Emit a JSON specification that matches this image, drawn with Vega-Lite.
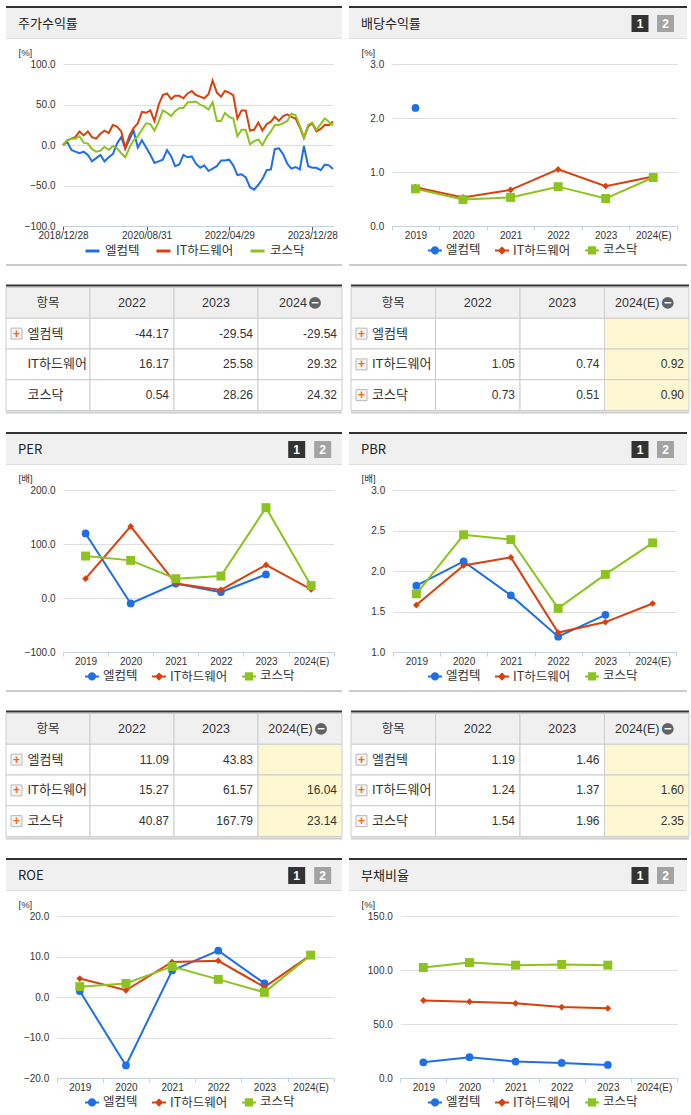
{
  "$schema": "https://vega.github.io/schema/vega-lite/v6.json",
  "padding": {"left": 5, "top": 6, "right": 0, "bottom": 0},
  "background": "#ffffff",
  "spacing": 18.5,
  "resolve": {"scale": {"color": "independent", "fill": "independent", "stroke": "independent", "shape": "independent"}, "legend": {"color": "independent", "fill": "independent", "stroke": "independent", "shape": "independent"}},
  "config": {
    "view": {"stroke": null},
    "font": "Liberation Sans, Noto Sans CJK KR",
    "axis": {"labelFont": "Liberation Sans", "labelFontSize": 10, "labelColor": "#333333", "titleFont": "Liberation Sans, Noto Sans CJK KR", "titleFontSize": 9.5, "titleFontWeight": "normal", "titleColor": "#333333", "gridColor": "#dedede", "domainColor": "#c3d1e0", "tickColor": "#c3d1e0"},
    "legend": {"labelFont": "Noto Sans CJK KR", "labelFontSize": 12.5, "labelColor": "#333333", "orient": "none", "legendX": 78, "legendY": 203, "direction": "horizontal", "symbolSize": 196, "symbolStrokeWidth": 2, "columnPadding": 10, "labelOffset": 3}
  },
  "vconcat": [
    {
      "spacing": 7,
      "resolve": {"scale": {"color": "independent", "fill": "independent", "stroke": "independent", "shape": "independent"}, "legend": {"color": "independent", "fill": "independent", "stroke": "independent", "shape": "independent"}},
      "hconcat": [
        {
          "spacing": 0,
          "resolve": {"scale": {"color": "independent", "fill": "independent", "stroke": "independent", "shape": "independent"}, "legend": {"color": "independent", "fill": "independent", "stroke": "independent", "shape": "independent"}},
          "vconcat": [
            {"width": 336, "height": 2, "view": {"fill": "#333333"}, "data": {"values": []}, "mark": "rect", "encoding": {}},
            {"width": 336, "height": 30, "view": {"fill": "#f0f0f0"}, "data": {"values": [{"t": "주가수익률"}]},
             "mark": {"type": "text", "align": "left", "baseline": "middle", "fontSize": 13, "color": "#222222", "font": "Noto Sans CJK KR"},
             "encoding": {"text": {"field": "t"}, "x": {"value": 12}, "y": {"value": 15.5}}},
            {"width": 336, "height": 1, "view": {"fill": "#dddddd"}, "data": {"values": []}, "mark": "rect", "encoding": {}},
            {
              "width": 336, "height": 225,
              "data": {"format": {"parse": {"d": "date:'%Y-%m-%d'"}}, "values": [
                {"d": "2018-12-28", "엘컴텍": 0, "IT하드웨어": 0, "코스닥": 0},
                {"d": "2019-01-28", "엘컴텍": 4, "IT하드웨어": 6, "코스닥": 6},
                {"d": "2019-02-28", "엘컴텍": -6, "IT하드웨어": 8, "코스닥": 8},
                {"d": "2019-03-28", "엘컴텍": -8, "IT하드웨어": 10, "코스닥": 8},
                {"d": "2019-04-28", "엘컴텍": -10, "IT하드웨어": 17, "코스닥": 11},
                {"d": "2019-05-28", "엘컴텍": -8, "IT하드웨어": 12, "코스닥": 3},
                {"d": "2019-06-28", "엘컴텍": -12, "IT하드웨어": 17, "코스닥": 2},
                {"d": "2019-07-28", "엘컴텍": -20, "IT하드웨어": 10, "코스닥": -5},
                {"d": "2019-08-28", "엘컴텍": -16, "IT하드웨어": 8, "코스닥": -8},
                {"d": "2019-09-28", "엘컴텍": -12, "IT하드웨어": 14, "코스닥": -7},
                {"d": "2019-10-28", "엘컴텍": -20, "IT하드웨어": 18, "코스닥": -2},
                {"d": "2019-11-28", "엘컴텍": -15, "IT하드웨어": 15, "코스닥": -6},
                {"d": "2019-12-28", "엘컴텍": -11, "IT하드웨어": 25, "코스닥": -1},
                {"d": "2020-01-28", "엘컴텍": 2, "IT하드웨어": 23, "코스닥": -4},
                {"d": "2020-02-28", "엘컴텍": 10, "IT하드웨어": 17, "코스닥": -10},
                {"d": "2020-03-28", "엘컴텍": -4, "IT하드웨어": -4, "코스닥": -15},
                {"d": "2020-04-28", "엘컴텍": 7, "IT하드웨어": 12, "코스닥": -3},
                {"d": "2020-05-28", "엘컴텍": 18, "IT하드웨어": 21, "코스닥": 6},
                {"d": "2020-06-28", "엘컴텍": -3, "IT하드웨어": 27, "코스닥": 11},
                {"d": "2020-07-28", "엘컴텍": 6, "IT하드웨어": 41, "코스닥": 19},
                {"d": "2020-08-28", "엘컴텍": -3, "IT하드웨어": 40, "코스닥": 27},
                {"d": "2020-09-28", "엘컴텍": -12, "IT하드웨어": 43, "코스닥": 26},
                {"d": "2020-10-28", "엘컴텍": -22, "IT하드웨어": 30, "코스닥": 18},
                {"d": "2020-11-28", "엘컴텍": -20, "IT하드웨어": 50, "코스닥": 29},
                {"d": "2020-12-28", "엘컴텍": -18, "IT하드웨어": 62, "코스닥": 43},
                {"d": "2021-01-28", "엘컴텍": -6, "IT하드웨어": 64, "코스닥": 40},
                {"d": "2021-02-28", "엘컴텍": -14, "IT하드웨어": 57, "코스닥": 36},
                {"d": "2021-03-28", "엘컴텍": -26, "IT하드웨어": 61, "코스닥": 42},
                {"d": "2021-04-28", "엘컴텍": -24, "IT하드웨어": 61, "코스닥": 46},
                {"d": "2021-05-28", "엘컴텍": -12, "IT하드웨어": 58, "코스닥": 46},
                {"d": "2021-06-28", "엘컴텍": -15, "IT하드웨어": 64, "코스닥": 53},
                {"d": "2021-07-28", "엘컴텍": -14, "IT하드웨어": 67, "코스닥": 53},
                {"d": "2021-08-28", "엘컴텍": -23, "IT하드웨어": 62, "코스닥": 54},
                {"d": "2021-09-28", "엘컴텍": -28, "IT하드웨어": 60, "코스닥": 50},
                {"d": "2021-10-28", "엘컴텍": -25, "IT하드웨어": 58, "코스닥": 48},
                {"d": "2021-11-28", "엘컴텍": -32, "IT하드웨어": 63, "코스닥": 44},
                {"d": "2021-12-28", "엘컴텍": -29, "IT하드웨어": 80, "코스닥": 53},
                {"d": "2022-01-28", "엘컴텍": -26, "IT하드웨어": 65, "코스닥": 30},
                {"d": "2022-02-28", "엘컴텍": -19, "IT하드웨어": 60, "코스닥": 30},
                {"d": "2022-03-28", "엘컴텍": -19, "IT하드웨어": 67, "코스닥": 40},
                {"d": "2022-04-28", "엘컴텍": -18, "IT하드웨어": 65, "코스닥": 35},
                {"d": "2022-05-28", "엘컴텍": -25, "IT하드웨어": 62, "코스닥": 33},
                {"d": "2022-06-28", "엘컴텍": -37, "IT하드웨어": 33, "코스닥": 11},
                {"d": "2022-07-28", "엘컴텍": -36, "IT하드웨어": 43, "코스닥": 19},
                {"d": "2022-08-28", "엘컴텍": -40, "IT하드웨어": 43, "코스닥": 19},
                {"d": "2022-09-28", "엘컴텍": -52, "IT하드웨어": 18, "코스닥": 1},
                {"d": "2022-10-28", "엘컴텍": -55, "IT하드웨어": 19, "코스닥": 5},
                {"d": "2022-11-28", "엘컴텍": -49, "IT하드웨어": 28, "코스닥": 7},
                {"d": "2022-12-28", "엘컴텍": -42, "IT하드웨어": 18, "코스닥": 0},
                {"d": "2023-01-28", "엘컴텍": -31, "IT하드웨어": 26, "코스닥": 10},
                {"d": "2023-02-28", "엘컴텍": -30, "IT하드웨어": 29, "코스닥": 17},
                {"d": "2023-03-28", "엘컴텍": -5, "IT하드웨어": 35, "코스닥": 25},
                {"d": "2023-04-28", "엘컴텍": -4, "IT하드웨어": 30, "코스닥": 25},
                {"d": "2023-05-28", "엘컴텍": -11, "IT하드웨어": 36, "코스닥": 27},
                {"d": "2023-06-28", "엘컴텍": -23, "IT하드웨어": 38, "코스닥": 30},
                {"d": "2023-07-28", "엘컴텍": -29, "IT하드웨어": 35, "코스닥": 39},
                {"d": "2023-08-28", "엘컴텍": -27, "IT하드웨어": 33, "코스닥": 37},
                {"d": "2023-09-28", "엘컴텍": -30, "IT하드웨어": 22, "코스닥": 24},
                {"d": "2023-10-28", "엘컴텍": -1, "IT하드웨어": 9, "코스닥": 10},
                {"d": "2023-11-28", "엘컴텍": -26, "IT하드웨어": 23, "코스닥": 25},
                {"d": "2023-12-28", "엘컴텍": -28, "IT하드웨어": 27, "코스닥": 28},
                {"d": "2024-01-28", "엘컴텍": -28, "IT하드웨어": 17, "코스닥": 19},
                {"d": "2024-02-28", "엘컴텍": -31, "IT하드웨어": 20, "코스닥": 26},
                {"d": "2024-03-28", "엘컴텍": -24, "IT하드웨어": 25, "코스닥": 33},
                {"d": "2024-04-28", "엘컴텍": -25, "IT하드웨어": 25, "코스닥": 29},
                {"d": "2024-05-28", "엘컴텍": -29.5, "IT하드웨어": 29.3, "코스닥": 24.3}
              ]},
              "transform": [{"fold": ["엘컴텍", "IT하드웨어", "코스닥"], "as": ["s", "v"]}],
              "mark": {"type": "line", "strokeWidth": 2},
              "encoding": {
                "x": {"field": "d", "type": "temporal",
                  "scale": {"domain": [{"year": 2018, "month": 12, "date": 28}, {"year": 2024, "month": 5, "date": 28}], "range": [57, 327]},
                  "axis": {"title": null, "offset": -38, "grid": false, "format": "%Y/%m/%d", "labelFlush": false, "labelOverlap": false, "tickColor": "#555555", "tickSize": 4, "labelPadding": 0,
                    "values": [{"year": 2018, "month": 12, "date": 28}, {"year": 2020, "month": 8, "date": 31}, {"year": 2022, "month": 4, "date": 29}, {"year": 2023, "month": 12, "date": 28}]}},
                "y": {"field": "v", "type": "quantitative",
                  "scale": {"domain": [-100, 100], "range": [187, 25.3], "nice": false, "zero": false},
                  "axis": {"title": "[%]", "titleAngle": 0, "titleAlign": "left", "titleBaseline": "middle", "titleX": -45, "titleY": 13, "offset": -57, "domain": false, "ticks": false, "labelPadding": 8, "values": [-100, -50, 0, 50, 100], "format": ".1f"}},
                "color": {"field": "s", "type": "nominal",
                  "scale": {"domain": ["엘컴텍", "IT하드웨어", "코스닥"], "range": ["#1f6fe6", "#d9400b", "#8dc31f"]},
                  "legend": {"title": null, "symbolType": "stroke", "symbolStrokeWidth": 3, "legendY": 203.5, "labelOffset": 4}}
              }
            },
            {"width": 336, "height": 2, "view": {"fill": "#cccccc"}, "data": {"values": []}, "mark": "rect", "encoding": {}}
          ]
        },
        {
          "spacing": 0,
          "resolve": {"scale": {"color": "independent", "fill": "independent", "stroke": "independent", "shape": "independent"}, "legend": {"color": "independent", "fill": "independent", "stroke": "independent", "shape": "independent"}},
          "vconcat": [
            {"width": 338, "height": 2, "view": {"fill": "#333333"}, "data": {"values": []}, "mark": "rect", "encoding": {}},
            {"width": 338, "height": 30, "view": {"fill": "#f0f0f0"}, "data": {"values": [{"t": "배당수익률"}]},
             "layer": [
               {"mark": {"type": "text", "align": "left", "baseline": "middle", "fontSize": 13, "color": "#222222", "font": "Noto Sans CJK KR"}, "encoding": {"text": {"field": "t"}, "x": {"value": 12}, "y": {"value": 15.5}}},
               {"mark": {"type": "point", "shape": "square", "filled": true, "size": 289, "color": "#333333", "opacity": 1}, "encoding": {"x": {"value": 291}, "y": {"value": 15.5}}},
               {"mark": {"type": "point", "shape": "square", "filled": true, "size": 289, "color": "#a3a3a3", "opacity": 1}, "encoding": {"x": {"value": 316.5}, "y": {"value": 15.5}}},
               {"mark": {"type": "text", "text": "1", "fontSize": 12, "fontWeight": "bold", "color": "#ffffff", "baseline": "middle"}, "encoding": {"x": {"value": 291}, "y": {"value": 16}}},
               {"mark": {"type": "text", "text": "2", "fontSize": 12, "fontWeight": "bold", "color": "#ffffff", "baseline": "middle"}, "encoding": {"x": {"value": 316.5}, "y": {"value": 16}}}
             ]},
            {"width": 338, "height": 1, "view": {"fill": "#dddddd"}, "data": {"values": []}, "mark": "rect", "encoding": {}},
            {
              "width": 338, "height": 225,
              "data": {"values": [
                {"y": "2019", "엘컴텍": 2.19, "IT하드웨어": 0.72, "코스닥": 0.69},
                {"y": "2020", "IT하드웨어": 0.53, "코스닥": 0.49},
                {"y": "2021", "IT하드웨어": 0.67, "코스닥": 0.53},
                {"y": "2022", "IT하드웨어": 1.05, "코스닥": 0.73},
                {"y": "2023", "IT하드웨어": 0.74, "코스닥": 0.51},
                {"y": "2024(E)", "IT하드웨어": 0.92, "코스닥": 0.90}
              ]},
              "transform": [{"fold": ["엘컴텍", "IT하드웨어", "코스닥"], "as": ["s", "v"]}, {"filter": "isValid(datum.v)"}],
              "encoding": {
                "x": {"field": "y", "type": "ordinal",
                  "scale": {"type": "band", "domain": ["2019", "2020", "2021", "2022", "2023", "2024(E)"], "range": [42.7, 328], "paddingInner": 0, "paddingOuter": 0},
                  "axis": {"title": null, "offset": -38, "grid": false, "tickBand": "extent", "tickSize": 4, "labelPadding": 0, "labelAngle": 0}},
                "y": {"field": "v", "type": "quantitative",
                  "scale": {"domain": [0, 3], "range": [187, 25.3], "nice": false, "zero": false},
                  "axis": {"title": "[%]", "titleAngle": 0, "titleAlign": "left", "titleBaseline": "middle", "titleX": -30.7, "titleY": 13, "offset": -42.7, "domain": false, "ticks": false, "labelPadding": 8, "values": [0, 1, 2, 3], "format": ".1f"}}
              },
              "layer": [
                {"transform": [{"filter": "datum.s === '엘컴텍'"}], "mark": {"type": "line", "strokeWidth": 2, "color": "#1f6fe6"}, "encoding": {}},
                {"transform": [{"filter": "datum.s === 'IT하드웨어'"}], "mark": {"type": "line", "strokeWidth": 2, "color": "#d9400b"}, "encoding": {}},
                {"transform": [{"filter": "datum.s === '코스닥'"}], "mark": {"type": "line", "strokeWidth": 2, "color": "#8dc31f"}, "encoding": {}},
                {"transform": [{"filter": "datum.s === '엘컴텍'"}], "mark": {"type": "point", "shape": "circle", "filled": true, "size": 60, "color": "#1f6fe6", "opacity": 1}, "encoding": {}},
                {"transform": [{"filter": "datum.s === 'IT하드웨어'"}], "mark": {"type": "point", "shape": "diamond", "filled": true, "size": 45, "color": "#d9400b", "opacity": 1}, "encoding": {}},
                {"transform": [{"filter": "datum.s === '코스닥'"}], "mark": {"type": "point", "shape": "square", "filled": true, "size": 80, "color": "#8dc31f", "opacity": 1}, "encoding": {}},
                {"mark": {"type": "point", "filled": true, "opacity": 0, "size": 196, "strokeWidth": 2},
                 "encoding": {
                   "fill": {"field": "s", "type": "nominal", "scale": {"domain": ["엘컴텍", "IT하드웨어", "코스닥"], "range": ["#1f6fe6", "#d9400b", "#8dc31f"]}, "legend": {"title": null, "symbolOpacity": 1}},
                   "stroke": {"field": "s", "type": "nominal", "scale": {"domain": ["엘컴텍", "IT하드웨어", "코스닥"], "range": ["#1f6fe6", "#d9400b", "#8dc31f"]}, "legend": {"title": null, "symbolOpacity": 1}},
                   "shape": {"field": "s", "type": "nominal", "scale": {"domain": ["엘컴텍", "IT하드웨어", "코스닥"], "range": ["M-1,0H1M-0.45,0A0.45,0.45,0,1,1,0.45,0A0.45,0.45,0,1,1,-0.45,0Z", "M-1,0H1M0,-0.4L0.4,0L0,0.4L-0.4,0Z", "M-1,0H1M-0.45,-0.45H0.45V0.45H-0.45Z"]}, "legend": {"title": null, "symbolOpacity": 1}}}}
              ]
            },
            {"width": 338, "height": 2, "view": {"fill": "#cccccc"}, "data": {"values": []}, "mark": "rect", "encoding": {}}
          ]
        }
      ]
    },
    {
      "spacing": 7,
      "hconcat": [
        {
          "spacing": 0,
          "vconcat": [
            {"width": 336, "height": 2, "view": {"fill": "#333333"}, "data": {"values": []}, "mark": "rect", "encoding": {}},
            {
              "width": 336, "height": 123,
              "data": {"values": [
                {"r": "h", "항목": "항목", "2022": "2022", "2023": "2023", "2024": "2024"},
                {"r": "엘컴텍", "항목": "엘컴텍", "2022": "-44.17", "2023": "-29.54", "2024": "-29.54"},
                {"r": "IT하드웨어", "항목": "IT하드웨어", "2022": "16.17", "2023": "25.58", "2024": "29.32"},
                {"r": "코스닥", "항목": "코스닥", "2022": "0.54", "2023": "28.26", "2024": "24.32"}
              ]},
              "transform": [{"fold": ["항목", "2022", "2023", "2024"], "as": ["c", "v"]}],
              "encoding": {
                "x": {"field": "c", "type": "nominal", "scale": {"domain": ["항목", "2022", "2023", "2024"], "paddingInner": 0, "paddingOuter": 0}, "axis": null},
                "y": {"field": "r", "type": "nominal", "scale": {"domain": ["h", "엘컴텍", "IT하드웨어", "코스닥"], "paddingInner": 0, "paddingOuter": 0}, "axis": null}
              },
              "layer": [
                {"mark": {"type": "rect", "stroke": "#cccccc", "strokeWidth": 1},
                 "encoding": {"fill": {"condition": [{"test": "datum.r === 'h'", "value": "#f0f0f0"}, {"test": "datum.c === '2024(E)'", "value": "#fdf8d2"}], "value": "#ffffff"}}},
                {"transform": [{"filter": "datum.r === 'h' && indexof(datum.c, '2024') < 0"}],
                 "mark": {"type": "text", "fontSize": 12.5, "color": "#333333", "baseline": "middle"}, "encoding": {"text": {"field": "v"}}},
                {"transform": [{"filter": "datum.r === 'h' && indexof(datum.c, '2024') === 0"}],
                 "mark": {"type": "text", "fontSize": 12.5, "color": "#333333", "baseline": "middle", "dx": -7}, "encoding": {"text": {"field": "v"}}},
                {"transform": [{"filter": "datum.r === 'h' && indexof(datum.c, '2024') === 0"}],
                 "mark": {"type": "point", "shape": "circle", "filled": true, "size": 140, "color": "#5f6368", "opacity": 1, "xOffset": 15}},
                {"transform": [{"filter": "datum.r === 'h' && indexof(datum.c, '2024') === 0"}],
                 "mark": {"type": "text", "text": "−", "fontSize": 13, "fontWeight": "bold", "color": "#ffffff", "baseline": "middle", "dx": 15}},
                {"transform": [{"filter": "datum.r === '엘컴텍' && datum.c === '항목'"}],
                 "mark": {"type": "point", "shape": "square", "filled": true, "size": 121, "color": "#f4f4f4", "stroke": "#b8b8b8", "strokeWidth": 1, "opacity": 1, "xOffset": 10.5},
                 "encoding": {"x": {"field": "c", "type": "nominal", "bandPosition": 0}}},
                {"transform": [{"filter": "datum.r === '엘컴텍' && datum.c === '항목'"}],
                 "mark": {"type": "text", "text": "+", "fontSize": 12, "fontWeight": "bold", "color": "#f26b0f", "baseline": "middle", "dx": 10.5},
                 "encoding": {"x": {"field": "c", "type": "nominal", "bandPosition": 0}}},
                {"transform": [{"filter": "datum.r !== 'h' && datum.c === '항목'"}],
                 "mark": {"type": "text", "align": "left", "baseline": "middle", "fontSize": 13, "color": "#333333", "dx": 21.5},
                 "encoding": {"x": {"field": "c", "type": "nominal", "bandPosition": 0}, "text": {"field": "v"}}},
                {"transform": [{"filter": "datum.r !== 'h' && datum.c !== '항목'"}],
                 "mark": {"type": "text", "align": "right", "baseline": "middle", "fontSize": 12, "color": "#333333", "dx": -5},
                 "encoding": {"x": {"field": "c", "type": "nominal", "bandPosition": 1}, "text": {"field": "v"}}}
              ]
            },
            {"width": 336, "height": 2, "view": {"fill": "#cccccc"}, "data": {"values": []}, "mark": "rect", "encoding": {}}
          ]
        },
        {
          "spacing": 0,
          "vconcat": [
            {"width": 338, "height": 2, "view": {"fill": "#333333"}, "data": {"values": []}, "mark": "rect", "encoding": {}},
            {
              "width": 338, "height": 123,
              "data": {"values": [
                {"r": "h", "항목": "항목", "2022": "2022", "2023": "2023", "2024(E)": "2024(E)"},
                {"r": "엘컴텍", "항목": "엘컴텍", "2022": "", "2023": "", "2024(E)": ""},
                {"r": "IT하드웨어", "항목": "IT하드웨어", "2022": "1.05", "2023": "0.74", "2024(E)": "0.92"},
                {"r": "코스닥", "항목": "코스닥", "2022": "0.73", "2023": "0.51", "2024(E)": "0.90"}
              ]},
              "transform": [{"fold": ["항목", "2022", "2023", "2024(E)"], "as": ["c", "v"]}],
              "encoding": {
                "x": {"field": "c", "type": "nominal", "scale": {"domain": ["항목", "2022", "2023", "2024(E)"], "paddingInner": 0, "paddingOuter": 0}, "axis": null},
                "y": {"field": "r", "type": "nominal", "scale": {"domain": ["h", "엘컴텍", "IT하드웨어", "코스닥"], "paddingInner": 0, "paddingOuter": 0}, "axis": null}
              },
              "layer": [
                {"mark": {"type": "rect", "stroke": "#cccccc", "strokeWidth": 1},
                 "encoding": {"fill": {"condition": [{"test": "datum.r === 'h'", "value": "#f0f0f0"}, {"test": "datum.c === '2024(E)'", "value": "#fdf8d2"}], "value": "#ffffff"}}},
                {"transform": [{"filter": "datum.r === 'h' && indexof(datum.c, '2024') < 0"}],
                 "mark": {"type": "text", "fontSize": 12.5, "color": "#333333", "baseline": "middle"}, "encoding": {"text": {"field": "v"}}},
                {"transform": [{"filter": "datum.r === 'h' && indexof(datum.c, '2024') === 0"}],
                 "mark": {"type": "text", "fontSize": 12.5, "color": "#333333", "baseline": "middle", "dx": -9.5}, "encoding": {"text": {"field": "v"}}},
                {"transform": [{"filter": "datum.r === 'h' && indexof(datum.c, '2024') === 0"}],
                 "mark": {"type": "point", "shape": "circle", "filled": true, "size": 140, "color": "#5f6368", "opacity": 1, "xOffset": 21}},
                {"transform": [{"filter": "datum.r === 'h' && indexof(datum.c, '2024') === 0"}],
                 "mark": {"type": "text", "text": "−", "fontSize": 13, "fontWeight": "bold", "color": "#ffffff", "baseline": "middle", "dx": 21}},
                {"transform": [{"filter": "datum.r !== 'h' && datum.c === '항목'"}],
                 "mark": {"type": "point", "shape": "square", "filled": true, "size": 121, "color": "#f4f4f4", "stroke": "#b8b8b8", "strokeWidth": 1, "opacity": 1, "xOffset": 10.5},
                 "encoding": {"x": {"field": "c", "type": "nominal", "bandPosition": 0}}},
                {"transform": [{"filter": "datum.r !== 'h' && datum.c === '항목'"}],
                 "mark": {"type": "text", "text": "+", "fontSize": 12, "fontWeight": "bold", "color": "#f26b0f", "baseline": "middle", "dx": 10.5},
                 "encoding": {"x": {"field": "c", "type": "nominal", "bandPosition": 0}}},
                {"transform": [{"filter": "datum.r !== 'h' && datum.c === '항목'"}],
                 "mark": {"type": "text", "align": "left", "baseline": "middle", "fontSize": 13, "color": "#333333", "dx": 21},
                 "encoding": {"x": {"field": "c", "type": "nominal", "bandPosition": 0}, "text": {"field": "v"}}},
                {"transform": [{"filter": "datum.r !== 'h' && datum.c !== '항목'"}],
                 "mark": {"type": "text", "align": "right", "baseline": "middle", "fontSize": 12, "color": "#333333", "dx": -5},
                 "encoding": {"x": {"field": "c", "type": "nominal", "bandPosition": 1}, "text": {"field": "v"}}}
              ]
            },
            {"width": 338, "height": 2, "view": {"fill": "#cccccc"}, "data": {"values": []}, "mark": "rect", "encoding": {}}
          ]
        }
      ]
    },
    {
      "spacing": 7,
      "resolve": {"scale": {"color": "independent", "fill": "independent", "stroke": "independent", "shape": "independent"}, "legend": {"color": "independent", "fill": "independent", "stroke": "independent", "shape": "independent"}},
      "hconcat": [
        {
          "spacing": 0,
          "resolve": {"scale": {"color": "independent", "fill": "independent", "stroke": "independent", "shape": "independent"}, "legend": {"color": "independent", "fill": "independent", "stroke": "independent", "shape": "independent"}},
          "vconcat": [
            {"width": 336, "height": 2, "view": {"fill": "#333333"}, "data": {"values": []}, "mark": "rect", "encoding": {}},
            {"width": 336, "height": 30, "view": {"fill": "#f0f0f0"}, "data": {"values": [{"t": "PER"}]},
             "layer": [
               {"mark": {"type": "text", "align": "left", "baseline": "middle", "fontSize": 13, "color": "#222222", "font": "Noto Sans CJK KR"}, "encoding": {"text": {"field": "t"}, "x": {"value": 12}, "y": {"value": 15.5}}},
               {"mark": {"type": "point", "shape": "square", "filled": true, "size": 289, "color": "#333333", "opacity": 1}, "encoding": {"x": {"value": 290.7}, "y": {"value": 15.5}}},
               {"mark": {"type": "point", "shape": "square", "filled": true, "size": 289, "color": "#a3a3a3", "opacity": 1}, "encoding": {"x": {"value": 316.7}, "y": {"value": 15.5}}},
               {"mark": {"type": "text", "text": "1", "fontSize": 12, "fontWeight": "bold", "color": "#ffffff", "baseline": "middle"}, "encoding": {"x": {"value": 290.7}, "y": {"value": 16}}},
               {"mark": {"type": "text", "text": "2", "fontSize": 12, "fontWeight": "bold", "color": "#ffffff", "baseline": "middle"}, "encoding": {"x": {"value": 316.7}, "y": {"value": 16}}}
             ]},
            {"width": 336, "height": 1, "view": {"fill": "#dddddd"}, "data": {"values": []}, "mark": "rect", "encoding": {}},
            {
              "width": 336, "height": 225,
              "data": {"values": [
                {"y": "2019", "엘컴텍": 120, "IT하드웨어": 36, "코스닥": 78},
                {"y": "2020", "엘컴텍": -10, "IT하드웨어": 133, "코스닥": 70},
                {"y": "2021", "엘컴텍": 27, "IT하드웨어": 27, "코스닥": 36},
                {"y": "2022", "엘컴텍": 11.09, "IT하드웨어": 15.27, "코스닥": 40.87},
                {"y": "2023", "엘컴텍": 43.83, "IT하드웨어": 61.57, "코스닥": 167.79},
                {"y": "2024(E)", "IT하드웨어": 16.04, "코스닥": 23.14}
              ]},
              "transform": [{"fold": ["엘컴텍", "IT하드웨어", "코스닥"], "as": ["s", "v"]}, {"filter": "isValid(datum.v)"}],
              "encoding": {
                "x": {"field": "y", "type": "ordinal",
                  "scale": {"type": "band", "domain": ["2019", "2020", "2021", "2022", "2023", "2024(E)"], "range": [57, 327.7], "paddingInner": 0, "paddingOuter": 0},
                  "axis": {"title": null, "offset": -38, "grid": false, "tickBand": "extent", "tickSize": 4, "labelPadding": 0, "labelAngle": 0}},
                "y": {"field": "v", "type": "quantitative",
                  "scale": {"domain": [-100, 200], "range": [187, 25.3], "nice": false, "zero": false},
                  "axis": {"title": "[배]", "titleAngle": 0, "titleAlign": "left", "titleBaseline": "middle", "titleX": -45, "titleY": 13, "offset": -57, "domain": false, "ticks": false, "labelPadding": 8, "values": [-100, 0, 100, 200], "format": ".1f"}}
              },
              "layer": [
                {"transform": [{"filter": "datum.s === '엘컴텍'"}], "mark": {"type": "line", "strokeWidth": 2, "color": "#1f6fe6"}, "encoding": {}},
                {"transform": [{"filter": "datum.s === 'IT하드웨어'"}], "mark": {"type": "line", "strokeWidth": 2, "color": "#d9400b"}, "encoding": {}},
                {"transform": [{"filter": "datum.s === '코스닥'"}], "mark": {"type": "line", "strokeWidth": 2, "color": "#8dc31f"}, "encoding": {}},
                {"transform": [{"filter": "datum.s === '엘컴텍'"}], "mark": {"type": "point", "shape": "circle", "filled": true, "size": 60, "color": "#1f6fe6", "opacity": 1}, "encoding": {}},
                {"transform": [{"filter": "datum.s === 'IT하드웨어'"}], "mark": {"type": "point", "shape": "diamond", "filled": true, "size": 45, "color": "#d9400b", "opacity": 1}, "encoding": {}},
                {"transform": [{"filter": "datum.s === '코스닥'"}], "mark": {"type": "point", "shape": "square", "filled": true, "size": 80, "color": "#8dc31f", "opacity": 1}, "encoding": {}},
                {"mark": {"type": "point", "filled": true, "opacity": 0, "size": 196, "strokeWidth": 2},
                 "encoding": {
                   "fill": {"field": "s", "type": "nominal", "scale": {"domain": ["엘컴텍", "IT하드웨어", "코스닥"], "range": ["#1f6fe6", "#d9400b", "#8dc31f"]}, "legend": {"title": null, "symbolOpacity": 1}},
                   "stroke": {"field": "s", "type": "nominal", "scale": {"domain": ["엘컴텍", "IT하드웨어", "코스닥"], "range": ["#1f6fe6", "#d9400b", "#8dc31f"]}, "legend": {"title": null, "symbolOpacity": 1}},
                   "shape": {"field": "s", "type": "nominal", "scale": {"domain": ["엘컴텍", "IT하드웨어", "코스닥"], "range": ["M-1,0H1M-0.45,0A0.45,0.45,0,1,1,0.45,0A0.45,0.45,0,1,1,-0.45,0Z", "M-1,0H1M0,-0.4L0.4,0L0,0.4L-0.4,0Z", "M-1,0H1M-0.45,-0.45H0.45V0.45H-0.45Z"]}, "legend": {"title": null, "symbolOpacity": 1}}}}
              ]
            },
            {"width": 336, "height": 2, "view": {"fill": "#cccccc"}, "data": {"values": []}, "mark": "rect", "encoding": {}}
          ]
        },
        {
          "spacing": 0,
          "resolve": {"scale": {"color": "independent", "fill": "independent", "stroke": "independent", "shape": "independent"}, "legend": {"color": "independent", "fill": "independent", "stroke": "independent", "shape": "independent"}},
          "vconcat": [
            {"width": 338, "height": 2, "view": {"fill": "#333333"}, "data": {"values": []}, "mark": "rect", "encoding": {}},
            {"width": 338, "height": 30, "view": {"fill": "#f0f0f0"}, "data": {"values": [{"t": "PBR"}]},
             "layer": [
               {"mark": {"type": "text", "align": "left", "baseline": "middle", "fontSize": 13, "color": "#222222", "font": "Noto Sans CJK KR"}, "encoding": {"text": {"field": "t"}, "x": {"value": 12}, "y": {"value": 15.5}}},
               {"mark": {"type": "point", "shape": "square", "filled": true, "size": 289, "color": "#333333", "opacity": 1}, "encoding": {"x": {"value": 291}, "y": {"value": 15.5}}},
               {"mark": {"type": "point", "shape": "square", "filled": true, "size": 289, "color": "#a3a3a3", "opacity": 1}, "encoding": {"x": {"value": 316.5}, "y": {"value": 15.5}}},
               {"mark": {"type": "text", "text": "1", "fontSize": 12, "fontWeight": "bold", "color": "#ffffff", "baseline": "middle"}, "encoding": {"x": {"value": 291}, "y": {"value": 16}}},
               {"mark": {"type": "text", "text": "2", "fontSize": 12, "fontWeight": "bold", "color": "#ffffff", "baseline": "middle"}, "encoding": {"x": {"value": 316.5}, "y": {"value": 16}}}
             ]},
            {"width": 338, "height": 1, "view": {"fill": "#dddddd"}, "data": {"values": []}, "mark": "rect", "encoding": {}},
            {
              "width": 338, "height": 225,
              "data": {"values": [
                {"y": "2019", "엘컴텍": 1.82, "IT하드웨어": 1.58, "코스닥": 1.72},
                {"y": "2020", "엘컴텍": 2.12, "IT하드웨어": 2.07, "코스닥": 2.45},
                {"y": "2021", "엘컴텍": 1.70, "IT하드웨어": 2.17, "코스닥": 2.39},
                {"y": "2022", "엘컴텍": 1.19, "IT하드웨어": 1.24, "코스닥": 1.54},
                {"y": "2023", "엘컴텍": 1.46, "IT하드웨어": 1.37, "코스닥": 1.96},
                {"y": "2024(E)", "IT하드웨어": 1.60, "코스닥": 2.35}
              ]},
              "transform": [{"fold": ["엘컴텍", "IT하드웨어", "코스닥"], "as": ["s", "v"]}, {"filter": "isValid(datum.v)"}],
              "encoding": {
                "x": {"field": "y", "type": "ordinal",
                  "scale": {"type": "band", "domain": ["2019", "2020", "2021", "2022", "2023", "2024(E)"], "range": [43.7, 327.3], "paddingInner": 0, "paddingOuter": 0},
                  "axis": {"title": null, "offset": -38, "grid": false, "tickBand": "extent", "tickSize": 4, "labelPadding": 0, "labelAngle": 0}},
                "y": {"field": "v", "type": "quantitative",
                  "scale": {"domain": [1, 3], "range": [187, 25.3], "nice": false, "zero": false},
                  "axis": {"title": "[배]", "titleAngle": 0, "titleAlign": "left", "titleBaseline": "middle", "titleX": -31.7, "titleY": 13, "offset": -43.7, "domain": false, "ticks": false, "labelPadding": 8, "values": [1, 1.5, 2, 2.5, 3], "format": ".1f"}}
              },
              "layer": [
                {"transform": [{"filter": "datum.s === '엘컴텍'"}], "mark": {"type": "line", "strokeWidth": 2, "color": "#1f6fe6"}, "encoding": {}},
                {"transform": [{"filter": "datum.s === 'IT하드웨어'"}], "mark": {"type": "line", "strokeWidth": 2, "color": "#d9400b"}, "encoding": {}},
                {"transform": [{"filter": "datum.s === '코스닥'"}], "mark": {"type": "line", "strokeWidth": 2, "color": "#8dc31f"}, "encoding": {}},
                {"transform": [{"filter": "datum.s === '엘컴텍'"}], "mark": {"type": "point", "shape": "circle", "filled": true, "size": 60, "color": "#1f6fe6", "opacity": 1}, "encoding": {}},
                {"transform": [{"filter": "datum.s === 'IT하드웨어'"}], "mark": {"type": "point", "shape": "diamond", "filled": true, "size": 45, "color": "#d9400b", "opacity": 1}, "encoding": {}},
                {"transform": [{"filter": "datum.s === '코스닥'"}], "mark": {"type": "point", "shape": "square", "filled": true, "size": 80, "color": "#8dc31f", "opacity": 1}, "encoding": {}},
                {"mark": {"type": "point", "filled": true, "opacity": 0, "size": 196, "strokeWidth": 2},
                 "encoding": {
                   "fill": {"field": "s", "type": "nominal", "scale": {"domain": ["엘컴텍", "IT하드웨어", "코스닥"], "range": ["#1f6fe6", "#d9400b", "#8dc31f"]}, "legend": {"title": null, "symbolOpacity": 1}},
                   "stroke": {"field": "s", "type": "nominal", "scale": {"domain": ["엘컴텍", "IT하드웨어", "코스닥"], "range": ["#1f6fe6", "#d9400b", "#8dc31f"]}, "legend": {"title": null, "symbolOpacity": 1}},
                   "shape": {"field": "s", "type": "nominal", "scale": {"domain": ["엘컴텍", "IT하드웨어", "코스닥"], "range": ["M-1,0H1M-0.45,0A0.45,0.45,0,1,1,0.45,0A0.45,0.45,0,1,1,-0.45,0Z", "M-1,0H1M0,-0.4L0.4,0L0,0.4L-0.4,0Z", "M-1,0H1M-0.45,-0.45H0.45V0.45H-0.45Z"]}, "legend": {"title": null, "symbolOpacity": 1}}}}
              ]
            },
            {"width": 338, "height": 2, "view": {"fill": "#cccccc"}, "data": {"values": []}, "mark": "rect", "encoding": {}}
          ]
        }
      ]
    },
    {
      "spacing": 7,
      "hconcat": [
        {
          "spacing": 0,
          "vconcat": [
            {"width": 336, "height": 2, "view": {"fill": "#333333"}, "data": {"values": []}, "mark": "rect", "encoding": {}},
            {
              "width": 336, "height": 123,
              "data": {"values": [
                {"r": "h", "항목": "항목", "2022": "2022", "2023": "2023", "2024(E)": "2024(E)"},
                {"r": "엘컴텍", "항목": "엘컴텍", "2022": "11.09", "2023": "43.83", "2024(E)": ""},
                {"r": "IT하드웨어", "항목": "IT하드웨어", "2022": "15.27", "2023": "61.57", "2024(E)": "16.04"},
                {"r": "코스닥", "항목": "코스닥", "2022": "40.87", "2023": "167.79", "2024(E)": "23.14"}
              ]},
              "transform": [{"fold": ["항목", "2022", "2023", "2024(E)"], "as": ["c", "v"]}],
              "encoding": {
                "x": {"field": "c", "type": "nominal", "scale": {"domain": ["항목", "2022", "2023", "2024(E)"], "paddingInner": 0, "paddingOuter": 0}, "axis": null},
                "y": {"field": "r", "type": "nominal", "scale": {"domain": ["h", "엘컴텍", "IT하드웨어", "코스닥"], "paddingInner": 0, "paddingOuter": 0}, "axis": null}
              },
              "layer": [
                {"mark": {"type": "rect", "stroke": "#cccccc", "strokeWidth": 1},
                 "encoding": {"fill": {"condition": [{"test": "datum.r === 'h'", "value": "#f0f0f0"}, {"test": "datum.c === '2024(E)'", "value": "#fdf8d2"}], "value": "#ffffff"}}},
                {"transform": [{"filter": "datum.r === 'h' && indexof(datum.c, '2024') < 0"}],
                 "mark": {"type": "text", "fontSize": 12.5, "color": "#333333", "baseline": "middle"}, "encoding": {"text": {"field": "v"}}},
                {"transform": [{"filter": "datum.r === 'h' && indexof(datum.c, '2024') === 0"}],
                 "mark": {"type": "text", "fontSize": 12.5, "color": "#333333", "baseline": "middle", "dx": -9.5}, "encoding": {"text": {"field": "v"}}},
                {"transform": [{"filter": "datum.r === 'h' && indexof(datum.c, '2024') === 0"}],
                 "mark": {"type": "point", "shape": "circle", "filled": true, "size": 140, "color": "#5f6368", "opacity": 1, "xOffset": 21}},
                {"transform": [{"filter": "datum.r === 'h' && indexof(datum.c, '2024') === 0"}],
                 "mark": {"type": "text", "text": "−", "fontSize": 13, "fontWeight": "bold", "color": "#ffffff", "baseline": "middle", "dx": 21}},
                {"transform": [{"filter": "datum.r !== 'h' && datum.c === '항목'"}],
                 "mark": {"type": "point", "shape": "square", "filled": true, "size": 121, "color": "#f4f4f4", "stroke": "#b8b8b8", "strokeWidth": 1, "opacity": 1, "xOffset": 10.5},
                 "encoding": {"x": {"field": "c", "type": "nominal", "bandPosition": 0}}},
                {"transform": [{"filter": "datum.r !== 'h' && datum.c === '항목'"}],
                 "mark": {"type": "text", "text": "+", "fontSize": 12, "fontWeight": "bold", "color": "#f26b0f", "baseline": "middle", "dx": 10.5},
                 "encoding": {"x": {"field": "c", "type": "nominal", "bandPosition": 0}}},
                {"transform": [{"filter": "datum.r !== 'h' && datum.c === '항목'"}],
                 "mark": {"type": "text", "align": "left", "baseline": "middle", "fontSize": 13, "color": "#333333", "dx": 21.5},
                 "encoding": {"x": {"field": "c", "type": "nominal", "bandPosition": 0}, "text": {"field": "v"}}},
                {"transform": [{"filter": "datum.r !== 'h' && datum.c !== '항목'"}],
                 "mark": {"type": "text", "align": "right", "baseline": "middle", "fontSize": 12, "color": "#333333", "dx": -5},
                 "encoding": {"x": {"field": "c", "type": "nominal", "bandPosition": 1}, "text": {"field": "v"}}}
              ]
            },
            {"width": 336, "height": 2, "view": {"fill": "#cccccc"}, "data": {"values": []}, "mark": "rect", "encoding": {}}
          ]
        },
        {
          "spacing": 0,
          "vconcat": [
            {"width": 338, "height": 2, "view": {"fill": "#333333"}, "data": {"values": []}, "mark": "rect", "encoding": {}},
            {
              "width": 338, "height": 123,
              "data": {"values": [
                {"r": "h", "항목": "항목", "2022": "2022", "2023": "2023", "2024(E)": "2024(E)"},
                {"r": "엘컴텍", "항목": "엘컴텍", "2022": "1.19", "2023": "1.46", "2024(E)": ""},
                {"r": "IT하드웨어", "항목": "IT하드웨어", "2022": "1.24", "2023": "1.37", "2024(E)": "1.60"},
                {"r": "코스닥", "항목": "코스닥", "2022": "1.54", "2023": "1.96", "2024(E)": "2.35"}
              ]},
              "transform": [{"fold": ["항목", "2022", "2023", "2024(E)"], "as": ["c", "v"]}],
              "encoding": {
                "x": {"field": "c", "type": "nominal", "scale": {"domain": ["항목", "2022", "2023", "2024(E)"], "paddingInner": 0, "paddingOuter": 0}, "axis": null},
                "y": {"field": "r", "type": "nominal", "scale": {"domain": ["h", "엘컴텍", "IT하드웨어", "코스닥"], "paddingInner": 0, "paddingOuter": 0}, "axis": null}
              },
              "layer": [
                {"mark": {"type": "rect", "stroke": "#cccccc", "strokeWidth": 1},
                 "encoding": {"fill": {"condition": [{"test": "datum.r === 'h'", "value": "#f0f0f0"}, {"test": "datum.c === '2024(E)'", "value": "#fdf8d2"}], "value": "#ffffff"}}},
                {"transform": [{"filter": "datum.r === 'h' && indexof(datum.c, '2024') < 0"}],
                 "mark": {"type": "text", "fontSize": 12.5, "color": "#333333", "baseline": "middle"}, "encoding": {"text": {"field": "v"}}},
                {"transform": [{"filter": "datum.r === 'h' && indexof(datum.c, '2024') === 0"}],
                 "mark": {"type": "text", "fontSize": 12.5, "color": "#333333", "baseline": "middle", "dx": -9.5}, "encoding": {"text": {"field": "v"}}},
                {"transform": [{"filter": "datum.r === 'h' && indexof(datum.c, '2024') === 0"}],
                 "mark": {"type": "point", "shape": "circle", "filled": true, "size": 140, "color": "#5f6368", "opacity": 1, "xOffset": 21}},
                {"transform": [{"filter": "datum.r === 'h' && indexof(datum.c, '2024') === 0"}],
                 "mark": {"type": "text", "text": "−", "fontSize": 13, "fontWeight": "bold", "color": "#ffffff", "baseline": "middle", "dx": 21}},
                {"transform": [{"filter": "datum.r !== 'h' && datum.c === '항목'"}],
                 "mark": {"type": "point", "shape": "square", "filled": true, "size": 121, "color": "#f4f4f4", "stroke": "#b8b8b8", "strokeWidth": 1, "opacity": 1, "xOffset": 10.5},
                 "encoding": {"x": {"field": "c", "type": "nominal", "bandPosition": 0}}},
                {"transform": [{"filter": "datum.r !== 'h' && datum.c === '항목'"}],
                 "mark": {"type": "text", "text": "+", "fontSize": 12, "fontWeight": "bold", "color": "#f26b0f", "baseline": "middle", "dx": 10.5},
                 "encoding": {"x": {"field": "c", "type": "nominal", "bandPosition": 0}}},
                {"transform": [{"filter": "datum.r !== 'h' && datum.c === '항목'"}],
                 "mark": {"type": "text", "align": "left", "baseline": "middle", "fontSize": 13, "color": "#333333", "dx": 21},
                 "encoding": {"x": {"field": "c", "type": "nominal", "bandPosition": 0}, "text": {"field": "v"}}},
                {"transform": [{"filter": "datum.r !== 'h' && datum.c !== '항목'"}],
                 "mark": {"type": "text", "align": "right", "baseline": "middle", "fontSize": 12, "color": "#333333", "dx": -5},
                 "encoding": {"x": {"field": "c", "type": "nominal", "bandPosition": 1}, "text": {"field": "v"}}}
              ]
            },
            {"width": 338, "height": 2, "view": {"fill": "#cccccc"}, "data": {"values": []}, "mark": "rect", "encoding": {}}
          ]
        }
      ]
    },
    {
      "spacing": 7,
      "resolve": {"scale": {"color": "independent", "fill": "independent", "stroke": "independent", "shape": "independent"}, "legend": {"color": "independent", "fill": "independent", "stroke": "independent", "shape": "independent"}},
      "hconcat": [
        {
          "spacing": 0,
          "resolve": {"scale": {"color": "independent", "fill": "independent", "stroke": "independent", "shape": "independent"}, "legend": {"color": "independent", "fill": "independent", "stroke": "independent", "shape": "independent"}},
          "vconcat": [
            {"width": 336, "height": 2, "view": {"fill": "#333333"}, "data": {"values": []}, "mark": "rect", "encoding": {}},
            {"width": 336, "height": 30, "view": {"fill": "#f0f0f0"}, "data": {"values": [{"t": "ROE"}]},
             "layer": [
               {"mark": {"type": "text", "align": "left", "baseline": "middle", "fontSize": 13, "color": "#222222", "font": "Noto Sans CJK KR"}, "encoding": {"text": {"field": "t"}, "x": {"value": 12}, "y": {"value": 15.5}}},
               {"mark": {"type": "point", "shape": "square", "filled": true, "size": 289, "color": "#333333", "opacity": 1}, "encoding": {"x": {"value": 290.7}, "y": {"value": 15.5}}},
               {"mark": {"type": "point", "shape": "square", "filled": true, "size": 289, "color": "#a3a3a3", "opacity": 1}, "encoding": {"x": {"value": 316.7}, "y": {"value": 15.5}}},
               {"mark": {"type": "text", "text": "1", "fontSize": 12, "fontWeight": "bold", "color": "#ffffff", "baseline": "middle"}, "encoding": {"x": {"value": 290.7}, "y": {"value": 16}}},
               {"mark": {"type": "text", "text": "2", "fontSize": 12, "fontWeight": "bold", "color": "#ffffff", "baseline": "middle"}, "encoding": {"x": {"value": 316.7}, "y": {"value": 16}}}
             ]},
            {"width": 336, "height": 1, "view": {"fill": "#dddddd"}, "data": {"values": []}, "mark": "rect", "encoding": {}},
            {
              "width": 336, "height": 225,
              "data": {"values": [
                {"y": "2019", "엘컴텍": 1.5, "IT하드웨어": 4.6, "코스닥": 2.6},
                {"y": "2020", "엘컴텍": -16.9, "IT하드웨어": 1.7, "코스닥": 3.4},
                {"y": "2021", "엘컴텍": 6.6, "IT하드웨어": 8.7, "코스닥": 7.6},
                {"y": "2022", "엘컴텍": 11.5, "IT하드웨어": 9.0, "코스닥": 4.4},
                {"y": "2023", "엘컴텍": 3.4, "IT하드웨어": 2.5, "코스닥": 1.2},
                {"y": "2024(E)", "IT하드웨어": 10.4, "코스닥": 10.4}
              ]},
              "transform": [{"fold": ["엘컴텍", "IT하드웨어", "코스닥"], "as": ["s", "v"]}, {"filter": "isValid(datum.v)"}],
              "encoding": {
                "x": {"field": "y", "type": "ordinal",
                  "scale": {"type": "band", "domain": ["2019", "2020", "2021", "2022", "2023", "2024(E)"], "range": [50.7, 327.7], "paddingInner": 0, "paddingOuter": 0},
                  "axis": {"title": null, "offset": -38, "grid": false, "tickBand": "extent", "tickSize": 4, "labelPadding": 0, "labelAngle": 0}},
                "y": {"field": "v", "type": "quantitative",
                  "scale": {"domain": [-20, 20], "range": [187, 25.3], "nice": false, "zero": false},
                  "axis": {"title": "[%]", "titleAngle": 0, "titleAlign": "left", "titleBaseline": "middle", "titleX": -38.7, "titleY": 13, "offset": -50.7, "domain": false, "ticks": false, "labelPadding": 8, "values": [-20, -10, 0, 10, 20], "format": ".1f"}}
              },
              "layer": [
                {"transform": [{"filter": "datum.s === '엘컴텍'"}], "mark": {"type": "line", "strokeWidth": 2, "color": "#1f6fe6"}, "encoding": {}},
                {"transform": [{"filter": "datum.s === 'IT하드웨어'"}], "mark": {"type": "line", "strokeWidth": 2, "color": "#d9400b"}, "encoding": {}},
                {"transform": [{"filter": "datum.s === '코스닥'"}], "mark": {"type": "line", "strokeWidth": 2, "color": "#8dc31f"}, "encoding": {}},
                {"transform": [{"filter": "datum.s === '엘컴텍'"}], "mark": {"type": "point", "shape": "circle", "filled": true, "size": 60, "color": "#1f6fe6", "opacity": 1}, "encoding": {}},
                {"transform": [{"filter": "datum.s === 'IT하드웨어'"}], "mark": {"type": "point", "shape": "diamond", "filled": true, "size": 45, "color": "#d9400b", "opacity": 1}, "encoding": {}},
                {"transform": [{"filter": "datum.s === '코스닥'"}], "mark": {"type": "point", "shape": "square", "filled": true, "size": 80, "color": "#8dc31f", "opacity": 1}, "encoding": {}},
                {"mark": {"type": "point", "filled": true, "opacity": 0, "size": 196, "strokeWidth": 2},
                 "encoding": {
                   "fill": {"field": "s", "type": "nominal", "scale": {"domain": ["엘컴텍", "IT하드웨어", "코스닥"], "range": ["#1f6fe6", "#d9400b", "#8dc31f"]}, "legend": {"title": null, "symbolOpacity": 1}},
                   "stroke": {"field": "s", "type": "nominal", "scale": {"domain": ["엘컴텍", "IT하드웨어", "코스닥"], "range": ["#1f6fe6", "#d9400b", "#8dc31f"]}, "legend": {"title": null, "symbolOpacity": 1}},
                   "shape": {"field": "s", "type": "nominal", "scale": {"domain": ["엘컴텍", "IT하드웨어", "코스닥"], "range": ["M-1,0H1M-0.45,0A0.45,0.45,0,1,1,0.45,0A0.45,0.45,0,1,1,-0.45,0Z", "M-1,0H1M0,-0.4L0.4,0L0,0.4L-0.4,0Z", "M-1,0H1M-0.45,-0.45H0.45V0.45H-0.45Z"]}, "legend": {"title": null, "symbolOpacity": 1}}}}
              ]
            },
            {"width": 336, "height": 2, "view": {"fill": "#cccccc"}, "data": {"values": []}, "mark": "rect", "encoding": {}}
          ]
        },
        {
          "spacing": 0,
          "resolve": {"scale": {"color": "independent", "fill": "independent", "stroke": "independent", "shape": "independent"}, "legend": {"color": "independent", "fill": "independent", "stroke": "independent", "shape": "independent"}},
          "vconcat": [
            {"width": 338, "height": 2, "view": {"fill": "#333333"}, "data": {"values": []}, "mark": "rect", "encoding": {}},
            {"width": 338, "height": 30, "view": {"fill": "#f0f0f0"}, "data": {"values": [{"t": "부채비율"}]},
             "layer": [
               {"mark": {"type": "text", "align": "left", "baseline": "middle", "fontSize": 13, "color": "#222222", "font": "Noto Sans CJK KR"}, "encoding": {"text": {"field": "t"}, "x": {"value": 12}, "y": {"value": 15.5}}},
               {"mark": {"type": "point", "shape": "square", "filled": true, "size": 289, "color": "#333333", "opacity": 1}, "encoding": {"x": {"value": 291}, "y": {"value": 15.5}}},
               {"mark": {"type": "point", "shape": "square", "filled": true, "size": 289, "color": "#a3a3a3", "opacity": 1}, "encoding": {"x": {"value": 316.5}, "y": {"value": 15.5}}},
               {"mark": {"type": "text", "text": "1", "fontSize": 12, "fontWeight": "bold", "color": "#ffffff", "baseline": "middle"}, "encoding": {"x": {"value": 291}, "y": {"value": 16}}},
               {"mark": {"type": "text", "text": "2", "fontSize": 12, "fontWeight": "bold", "color": "#ffffff", "baseline": "middle"}, "encoding": {"x": {"value": 316.5}, "y": {"value": 16}}}
             ]},
            {"width": 338, "height": 1, "view": {"fill": "#dddddd"}, "data": {"values": []}, "mark": "rect", "encoding": {}},
            {
              "width": 338, "height": 225,
              "data": {"values": [
                {"y": "2019", "엘컴텍": 14.6, "IT하드웨어": 72.0, "코스닥": 102.5},
                {"y": "2020", "엘컴텍": 19.3, "IT하드웨어": 70.8, "코스닥": 107.1},
                {"y": "2021", "엘컴텍": 15.2, "IT하드웨어": 69.3, "코스닥": 104.7},
                {"y": "2022", "엘컴텍": 14.0, "IT하드웨어": 65.8, "코스닥": 105.3},
                {"y": "2023", "엘컴텍": 12.1, "IT하드웨어": 64.6, "코스닥": 104.7}
              ]},
              "transform": [{"fold": ["엘컴텍", "IT하드웨어", "코스닥"], "as": ["s", "v"]}, {"filter": "isValid(datum.v)"}],
              "encoding": {
                "x": {"field": "y", "type": "ordinal",
                  "scale": {"type": "band", "domain": ["2019", "2020", "2021", "2022", "2023", "2024(E)"], "range": [51.3, 328], "paddingInner": 0, "paddingOuter": 0},
                  "axis": {"title": null, "offset": -38, "grid": false, "tickBand": "extent", "tickSize": 4, "labelPadding": 0, "labelAngle": 0}},
                "y": {"field": "v", "type": "quantitative",
                  "scale": {"domain": [0, 150], "range": [187, 25.3], "nice": false, "zero": false},
                  "axis": {"title": "[%]", "titleAngle": 0, "titleAlign": "left", "titleBaseline": "middle", "titleX": -39.3, "titleY": 13, "offset": -51.3, "domain": false, "ticks": false, "labelPadding": 8, "values": [0, 50, 100, 150], "format": ".1f"}}
              },
              "layer": [
                {"transform": [{"filter": "datum.s === '엘컴텍'"}], "mark": {"type": "line", "strokeWidth": 2, "color": "#1f6fe6"}, "encoding": {}},
                {"transform": [{"filter": "datum.s === 'IT하드웨어'"}], "mark": {"type": "line", "strokeWidth": 2, "color": "#d9400b"}, "encoding": {}},
                {"transform": [{"filter": "datum.s === '코스닥'"}], "mark": {"type": "line", "strokeWidth": 2, "color": "#8dc31f"}, "encoding": {}},
                {"transform": [{"filter": "datum.s === '엘컴텍'"}], "mark": {"type": "point", "shape": "circle", "filled": true, "size": 60, "color": "#1f6fe6", "opacity": 1}, "encoding": {}},
                {"transform": [{"filter": "datum.s === 'IT하드웨어'"}], "mark": {"type": "point", "shape": "diamond", "filled": true, "size": 45, "color": "#d9400b", "opacity": 1}, "encoding": {}},
                {"transform": [{"filter": "datum.s === '코스닥'"}], "mark": {"type": "point", "shape": "square", "filled": true, "size": 80, "color": "#8dc31f", "opacity": 1}, "encoding": {}},
                {"mark": {"type": "point", "filled": true, "opacity": 0, "size": 196, "strokeWidth": 2},
                 "encoding": {
                   "fill": {"field": "s", "type": "nominal", "scale": {"domain": ["엘컴텍", "IT하드웨어", "코스닥"], "range": ["#1f6fe6", "#d9400b", "#8dc31f"]}, "legend": {"title": null, "symbolOpacity": 1}},
                   "stroke": {"field": "s", "type": "nominal", "scale": {"domain": ["엘컴텍", "IT하드웨어", "코스닥"], "range": ["#1f6fe6", "#d9400b", "#8dc31f"]}, "legend": {"title": null, "symbolOpacity": 1}},
                   "shape": {"field": "s", "type": "nominal", "scale": {"domain": ["엘컴텍", "IT하드웨어", "코스닥"], "range": ["M-1,0H1M-0.45,0A0.45,0.45,0,1,1,0.45,0A0.45,0.45,0,1,1,-0.45,0Z", "M-1,0H1M0,-0.4L0.4,0L0,0.4L-0.4,0Z", "M-1,0H1M-0.45,-0.45H0.45V0.45H-0.45Z"]}, "legend": {"title": null, "symbolOpacity": 1}}}}
              ]
            },
            {"width": 338, "height": 2, "view": {"fill": "#cccccc"}, "data": {"values": []}, "mark": "rect", "encoding": {}}
          ]
        }
      ]
    }
  ]
}
